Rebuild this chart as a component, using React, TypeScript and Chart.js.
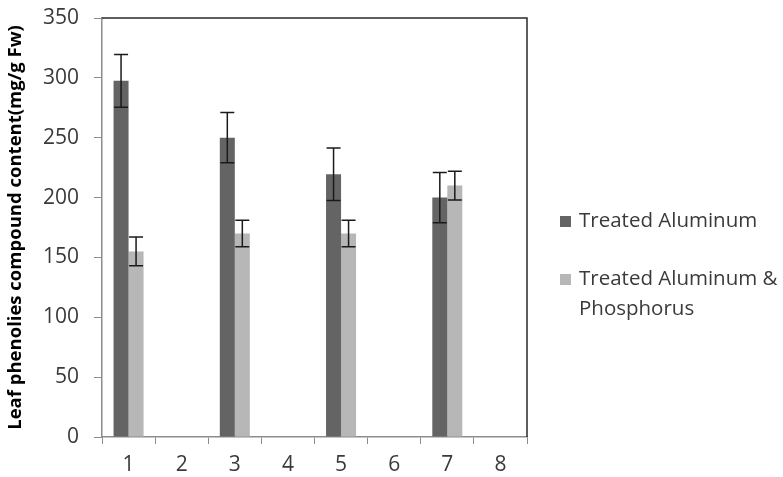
import React, { useEffect, useRef } from "react";
import { Chart, registerables } from "chart.js";

Chart.register(...registerables);

const categories = ["1", "2", "3", "4", "5", "6", "7", "8"];
const aluminum = [297.5, null, 250, null, 219.5, null, 200, null];
const aluminumErr = [22, null, 21, null, 22, null, 21, null];
const aluminumPhos = [155, null, 170, null, 170, null, 210, null];
const aluminumPhosErr = [12, null, 11, null, 11, null, 12, null];
const seriesLabels = ["Treated Aluminum", "Treated Aluminum & Phosphorus"];
const legendLines = [["Treated Aluminum"], ["Treated Aluminum &", "Phosphorus"]];
const yTitle = "Leaf phenolies compound content(mg/g Fw)";
const yMin = 0;
const yMax = 350;
const yStep = 50;

const FONT = "'Open Sans', sans-serif";

const errorBarPlugin = {
  id: "errorBars",
  afterDatasetsDraw(chart: any) {
    const ctx = chart.ctx;
    const yScale = chart.scales.y;
    const errs = [aluminumErr, aluminumPhosErr];
    ctx.save();
    ctx.strokeStyle = "#1a1a1a";
    ctx.lineWidth = 1.5;
    chart.data.datasets.forEach((ds: any, di: number) => {
      const meta = chart.getDatasetMeta(di);
      meta.data.forEach((el: any, i: number) => {
        const v = ds.data[i];
        const e = errs[di][i];
        if (v == null || e == null) return;
        const x = el.x;
        const yt = yScale.getPixelForValue(v + e);
        const yb = yScale.getPixelForValue(v - e);
        const cap = 7;
        ctx.beginPath();
        ctx.moveTo(x, yt);
        ctx.lineTo(x, yb);
        ctx.moveTo(x - cap, yt);
        ctx.lineTo(x + cap, yt);
        ctx.moveTo(x - cap, yb);
        ctx.lineTo(x + cap, yb);
        ctx.stroke();
      });
    });
    ctx.restore();
  },
};

const framePlugin = {
  id: "frame",
  afterDraw(chart: any) {
    const { ctx, chartArea } = chart;
    ctx.save();
    ctx.strokeStyle = "#2a2a2a";
    ctx.lineWidth = 1.5;
    ctx.beginPath();
    ctx.moveTo(chartArea.left, chartArea.top);
    ctx.lineTo(chartArea.right, chartArea.top);
    ctx.lineTo(chartArea.right, chartArea.bottom);
    ctx.stroke();
    ctx.restore();
  },
};

const legendPlugin = {
  id: "customLegend",
  afterDraw(chart: any) {
    const { ctx, chartArea } = chart;
    const boxX = chartArea.right + 33;
    const textX = boxX + 19;
    const baselines = [chartArea.top + 209, chartArea.top + 267];
    const lineGap = 30;
    ctx.save();
    ctx.font = `20.5px ${FONT}`;
    ctx.textBaseline = "alphabetic";
    ctx.textAlign = "left";
    chart.data.datasets.forEach((ds: any, di: number) => {
      const b = baselines[di];
      ctx.fillStyle = ds.backgroundColor;
      ctx.fillRect(boxX, b - 11, 11, 11);
      ctx.fillStyle = "#3a3a3a";
      legendLines[di].forEach((line, li) => {
        ctx.fillText(line, textX, b + li * lineGap);
      });
    });
    ctx.restore();
  },
};

export default function App() {
  const ref = useRef<HTMLCanvasElement>(null);
  useEffect(() => {
    if (!ref.current) return;
    const chart = new Chart(ref.current, {
      type: "bar",
      data: {
        labels: categories,
        datasets: [
          {
            label: seriesLabels[0],
            data: aluminum,
            backgroundColor: "#646464",
            categoryPercentage: 0.565,
            barPercentage: 1,
          },
          {
            label: seriesLabels[1],
            data: aluminumPhos,
            backgroundColor: "#b7b7b7",
            categoryPercentage: 0.565,
            barPercentage: 1,
          },
        ],
      } as any,
      options: {
        responsive: false,
        animation: false,
        layout: { padding: { top: 18, right: 256, left: 0, bottom: 0 } },
        plugins: {
          legend: { display: false },
          tooltip: { enabled: false },
        },
        scales: {
          x: {
            grid: {
              offset: true,
              drawOnChartArea: false,
              tickLength: 7,
              color: "#8c8c8c",
            },
            border: { color: "#8c8c8c", width: 1.5 },
            ticks: {
              font: { family: FONT, size: 21 },
              color: "#3a3a3a",
              padding: 8,
            },
            afterFit(scale: any) {
              scale.height = 40;
              scale.paddingLeft = 0;
              scale.paddingRight = 0;
            },
          },
          y: {
            min: yMin,
            max: yMax,
            grid: {
              drawOnChartArea: false,
              tickLength: 8,
              color: "#8c8c8c",
            },
            border: { color: "#8c8c8c", width: 1.5 },
            ticks: {
              stepSize: yStep,
              font: { family: FONT, size: 21 },
              color: "#3a3a3a",
              padding: 15,
            },
            title: {
              display: true,
              text: yTitle,
              font: { family: FONT, size: 18.5, weight: "bold" },
              color: "#000000",
              padding: { top: 5, bottom: 0 },
            },
            afterFit(scale: any) {
              scale.width = 102;
              scale.paddingTop = 0;
              scale.paddingBottom = 0;
            },
          },
        },
      },
      plugins: [errorBarPlugin, framePlugin, legendPlugin],
    });
    return () => chart.destroy();
  }, []);
  return (
    <div style={{ position: "fixed", left: 0, top: 0, width: 783, height: 477, background: "#fff" }}>
      <canvas ref={ref} width={783} height={477} style={{ display: "block" }} />
    </div>
  );
}
